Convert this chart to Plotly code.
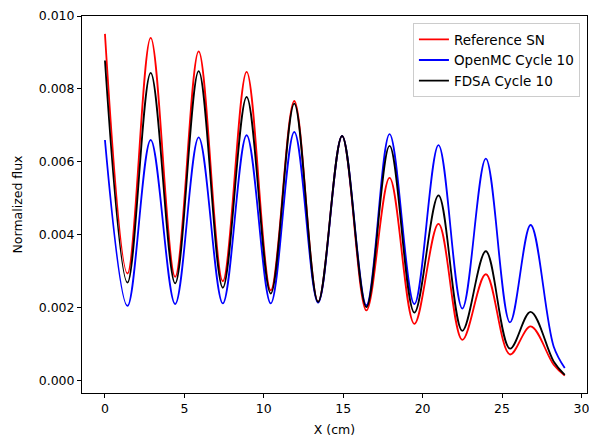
import plotly.graph_objects as go

# Key points (peaks / troughs), x in cm
x_ref = [0.0, 1.42, 2.88, 4.42, 5.90, 7.42, 8.92, 10.44, 11.92, 13.42, 14.93,
         16.46, 17.92, 19.48, 21.0, 22.5, 23.98, 25.5, 26.8, 28.25, 28.95]
sn = [0.00951, 0.00294, 0.00940, 0.00285, 0.00903, 0.00273, 0.00847, 0.00248,
      0.00767, 0.00216, 0.00671, 0.00193, 0.00556, 0.00156, 0.00430, 0.00112,
      0.00292, 0.00072, 0.00149, 0.00044, 0.00014]
openmc = [0.00660, 0.00205, 0.00660, 0.00210, 0.00667, 0.00212, 0.00673, 0.00212,
          0.00682, 0.00214, 0.00671, 0.00207, 0.00676, 0.00210, 0.00646, 0.00198,
          0.00609, 0.00160, 0.00427, 0.00094, 0.00035]
fdsa = [0.00878, 0.00269, 0.00844, 0.00267, 0.00849, 0.00255, 0.00778, 0.00239,
        0.00760, 0.00216, 0.00671, 0.00202, 0.00644, 0.00187, 0.00508, 0.00137,
        0.00355, 0.00088, 0.00189, 0.00053, 0.00016]

series = [("Reference SN", sn, "#ff0000"),
          ("OpenMC Cycle 10", openmc, "#0000ff"),
          ("FDSA Cycle 10", fdsa, "#000000")]

x_ticks = [0, 5, 10, 15, 20, 25, 30]
y_ticks = [0.000, 0.002, 0.004, 0.006, 0.008, 0.010]

fig = go.Figure()
for name, ys, col in series:
    fig.add_trace(go.Scatter(x=x_ref, y=ys, mode="lines", name=name,
                             line=dict(color=col, width=1.8, shape="spline", smoothing=1.0)))

tick_font = dict(family="DejaVu Sans", size=12.5, color="#000000")
fig.update_layout(
    width=589, height=442,
    margin=dict(l=82, r=2, t=16, b=49, autoexpand=False),
    paper_bgcolor="white", plot_bgcolor="white",
    font=tick_font,
    showlegend=True,
    legend=dict(x=0.986, y=0.981, xanchor="right", yanchor="top",
                bgcolor="rgba(255,255,255,0.8)", bordercolor="#cccccc", borderwidth=1,
                font=dict(family="DejaVu Sans", size=13.5, color="#000000"),
                itemwidth=30, tracegroupgap=0),
    xaxis=dict(range=[-1.445, 30.35], tickvals=x_ticks, ticktext=[str(v) for v in x_ticks],
               showgrid=False, zeroline=False, showline=True, linecolor="black",
               linewidth=1, mirror=True, ticks="outside", ticklen=4, tickcolor="black",
               tickfont=tick_font, automargin=False, ticklabeloverflow="allow",
               title=dict(text="X (cm)", standoff=10, font=tick_font)),
    yaxis=dict(range=[-0.000336, 0.0100001], tickvals=y_ticks,
               ticktext=[f"{v:.3f}" for v in y_ticks],
               showgrid=False, zeroline=False, showline=True, linecolor="black",
               linewidth=1, mirror=True, ticks="outside", ticklen=4, tickcolor="black",
               tickfont=tick_font, automargin=False, ticklabeloverflow="allow",
               title=dict(text="Normalized flux", standoff=13, font=tick_font)),
)

fig.write_html("out.html", config={"displayModeBar": False},
               post_script="document.body.style.margin='0';document.body.style.overflow='hidden';")
